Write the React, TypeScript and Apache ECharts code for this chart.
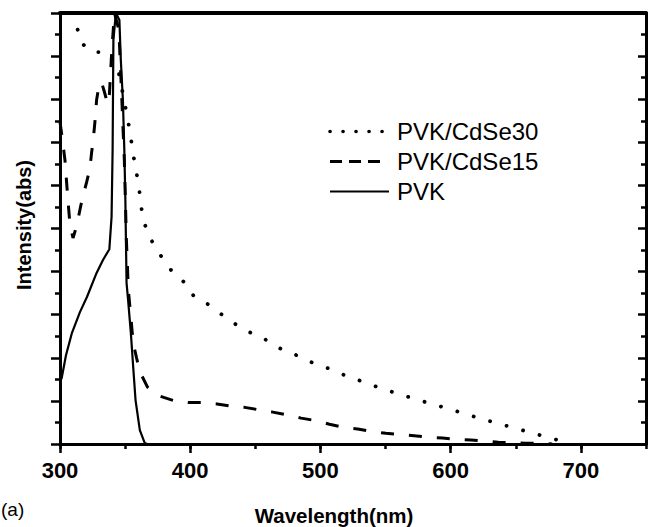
import React, { useEffect, useRef } from "react";
import * as echarts from "echarts";

// ---- Data ----
const cdse30Wavelength = [310.5, 312.8, 315.9, 324.3, 337.0, 344.7, 349.8, 352.3, 354.4, 356.2, 358.6, 360.8, 362.1, 364.4, 369.5, 377.6, 386.8, 397.5, 402.5, 414.9, 428.2, 441.8, 454.3, 467.3, 480.1, 492.9, 505.6, 518.4, 531.2, 543.9, 556.9, 570.0, 583.0, 595.8, 609.0, 621.8, 634.6, 647.9, 660.9, 673.9, 687.2, 690];
const cdse30Intensity = [100, 97.1, 93.2, 91.0, 90.8, 86.8, 78.9, 74.9, 71.1, 67.2, 63.2, 59.3, 55.5, 51.5, 47.6, 43.6, 39.7, 37.0, 34.4, 32.2, 29.1, 26.4, 24.9, 22.4, 20.8, 19.0, 17.6, 16.0, 14.6, 13.2, 11.9, 10.7, 9.5, 8.4, 7.2, 6.0, 4.9, 3.8, 2.7, 1.6, 0.5, 0];

const cdse15Wavelength = [300, 301.5, 303.8, 305.1, 306.1, 307.7, 310.0, 312.3, 314.0, 316.1, 317.9, 320.5, 323.0, 324.3, 325.5, 326.8, 328.1, 329.9, 331.8, 333.9, 336.6, 337.9, 339.8, 341.8, 345.2, 347.5, 349.4, 351.0, 352.5, 354.4, 356.2, 358.8, 361.3, 367.2, 372.8, 376.6, 388.1, 398.3, 409.8, 420.5, 431.6, 441.8, 453.3, 463.4, 474.9, 485.2, 496.7, 506.9, 517.1, 528.6, 538.9, 550.3, 561.1, 572.0, 582.2, 593.7, 604.0, 615.5, 625.7, 636.6, 647.4, 657.6, 669.1, 678.0];
const cdse15Intensity = [74.7, 71.5, 65.9, 60.6, 56.6, 50.8, 47.8, 50.1, 52.4, 55.5, 57.8, 60.8, 64.0, 67.7, 70.5, 74.7, 79.8, 83.1, 84.0, 81.9, 78.9, 81.0, 91.4, 100, 96.1, 79.8, 65.9, 47.3, 35.7, 29.5, 23.4, 20.0, 16.8, 13.2, 11.8, 11.1, 10.0, 9.6, 9.6, 9.3, 8.8, 8.5, 7.9, 7.4, 6.7, 6.0, 5.4, 4.6, 3.9, 3.5, 2.9, 2.5, 2.2, 1.9, 1.6, 1.4, 1.1, 0.9, 0.7, 0.4, 0.3, 0.2, 0.1, 0];

const pvkWavelength = [300, 301.3, 304.6, 309.2, 315.3, 320.7, 328.1, 333.0, 337.9, 339.6, 340.4, 341.0, 342.9, 345.6, 346.7, 348.3, 349.4, 350.2, 351.1, 352.3, 354.4, 356.2, 358.0, 361.3, 365.1, 367];
const pvkIntensity = [14.5, 15.3, 20.6, 25.8, 30.6, 34.1, 39.7, 42.7, 45.2, 52.7, 68.2, 93.7, 100, 98.4, 89.1, 79.8, 68.2, 56.6, 37.4, 33.4, 25.8, 17.9, 10.2, 3.2, 0.2, 0];

const seriesNames = ["PVK/CdSe30", "PVK/CdSe15", "PVK"];
const xTitle = "Wavelength(nm)";
const yTitle = "Intensity(abs)";
const panelLabel = "(a)";

const zip = (xs: number[], ys: number[]) => xs.map((x, i) => [x, ys[i]]);

const FONT = "'Liberation Sans', Arial, sans-serif";

export default function App() {
  const ref = useRef<HTMLDivElement>(null);
  useEffect(() => {
    if (!ref.current) return;
    const chart = echarts.init(ref.current, undefined, { renderer: "svg" });
    const black = "#000";
    const gridLeft = 60, gridTop = 13, gridW = 586, gridH = 431;
    chart.setOption({
      animation: false,
      backgroundColor: "#fff",
      grid: { left: gridLeft, top: gridTop, width: gridW, height: gridH, containLabel: false },
      xAxis: [
        {
          type: "value", min: 300, max: 750, interval: 100, position: "bottom",
          axisLine: { show: true, onZero: false, lineStyle: { color: black, width: 3 } },
          axisTick: { show: true, inside: false, length: 9, lineStyle: { color: black, width: 2.5 } },
          axisLabel: { show: true, fontSize: 22, fontWeight: "bold", fontFamily: FONT, color: black, margin: 15, showMaxLabel: false },
          splitLine: { show: false },
        },
        {
          type: "value", min: 300, max: 750, interval: 50, position: "bottom",
          axisLine: { show: false },
          axisTick: { show: true, inside: false, length: 5, lineStyle: { color: black, width: 2.5 } },
          axisLabel: { show: false },
          splitLine: { show: false },
        },
        {
          type: "value", min: 300, max: 750, position: "top",
          axisLine: { show: true, onZero: false, lineStyle: { color: black, width: 4 } },
          axisTick: { show: false }, axisLabel: { show: false }, splitLine: { show: false },
        },
      ],
      yAxis: [
        {
          type: "value", min: 0, max: 100, interval: 10, position: "left",
          axisLine: { show: true, onZero: false, lineStyle: { color: black, width: 3 } },
          axisTick: { show: true, inside: false, length: 9, lineStyle: { color: black, width: 2.5 } },
          minorTick: { show: true, splitNumber: 2, length: 5, lineStyle: { color: black, width: 2.5 } },
          axisLabel: { show: false }, splitLine: { show: false }, minorSplitLine: { show: false },
        },
        {
          type: "value", min: 0, max: 100, interval: 10, position: "right",
          axisLine: { show: true, onZero: false, lineStyle: { color: black, width: 3 } },
          axisTick: { show: true, inside: true, length: 8, lineStyle: { color: black, width: 2.5 } },
          minorTick: { show: true, splitNumber: 2, length: 5, lineStyle: { color: black, width: 2.5 } },
          axisLabel: { show: false }, splitLine: { show: false }, minorSplitLine: { show: false },
        },
      ],
      series: [
        {
          name: seriesNames[0], type: "line", xAxisIndex: 0, yAxisIndex: 0, showSymbol: false, symbol: "none", clip: true,
          data: zip(cdse30Wavelength, cdse30Intensity),
          lineStyle: { color: black, width: 3.8, type: [0.1, 17], cap: "round" },
        },
        {
          name: seriesNames[1], type: "line", xAxisIndex: 0, yAxisIndex: 0, showSymbol: false, symbol: "none", clip: true,
          data: zip(cdse15Wavelength, cdse15Intensity),
          lineStyle: { color: black, width: 3, type: [13, 15] },
        },
        {
          name: seriesNames[2], type: "line", xAxisIndex: 0, yAxisIndex: 0, showSymbol: false, symbol: "none", clip: true,
          data: zip(pvkWavelength, pvkIntensity),
          lineStyle: { color: black, width: 2.2, type: "solid" },
        },
      ],
      graphic: [
        // legend samples
        { type: "line", shape: { x1: 330, y1: 131.5, x2: 382.1, y2: 131.5 }, style: { stroke: black, lineWidth: 3.6, lineDash: [0.1, 12.9], lineCap: "round" } },
        { type: "line", shape: { x1: 330, y1: 161.5, x2: 381, y2: 161.5 }, style: { stroke: black, lineWidth: 3, lineDash: [12, 7] } },
        { type: "line", shape: { x1: 330, y1: 191.5, x2: 389, y2: 191.5 }, style: { stroke: black, lineWidth: 2.2 } },
        { type: "text", x: 397, y: 131, style: { text: seriesNames[0], fontSize: 24, fontFamily: FONT, fill: black, verticalAlign: "middle", align: "left" } },
        { type: "text", x: 397, y: 161, style: { text: seriesNames[1], fontSize: 24, fontFamily: FONT, fill: black, verticalAlign: "middle", align: "left" } },
        { type: "text", x: 397, y: 191, style: { text: seriesNames[2], fontSize: 24, fontFamily: FONT, fill: black, verticalAlign: "middle", align: "left" } },
        // axis titles
        { type: "text", x: 334, y: 515, style: { text: xTitle, fontSize: 20.5, fontWeight: "bold", fontFamily: FONT, fill: black, align: "center", verticalAlign: "middle" } },
        { type: "text", x: 24, y: 225, rotation: Math.PI / 2, style: { text: yTitle, fontSize: 20, fontWeight: "bold", fontFamily: FONT, fill: black, align: "center", verticalAlign: "middle" } },
        { type: "text", x: 1, y: 509, style: { text: panelLabel, fontSize: 19, fontFamily: FONT, fill: black, align: "left", verticalAlign: "middle" } },
      ],
    });
    return () => chart.dispose();
  }, []);
  return <div ref={ref} style={{ width: 652, height: 527, position: "absolute", left: 0, top: 0 }} />;
}
